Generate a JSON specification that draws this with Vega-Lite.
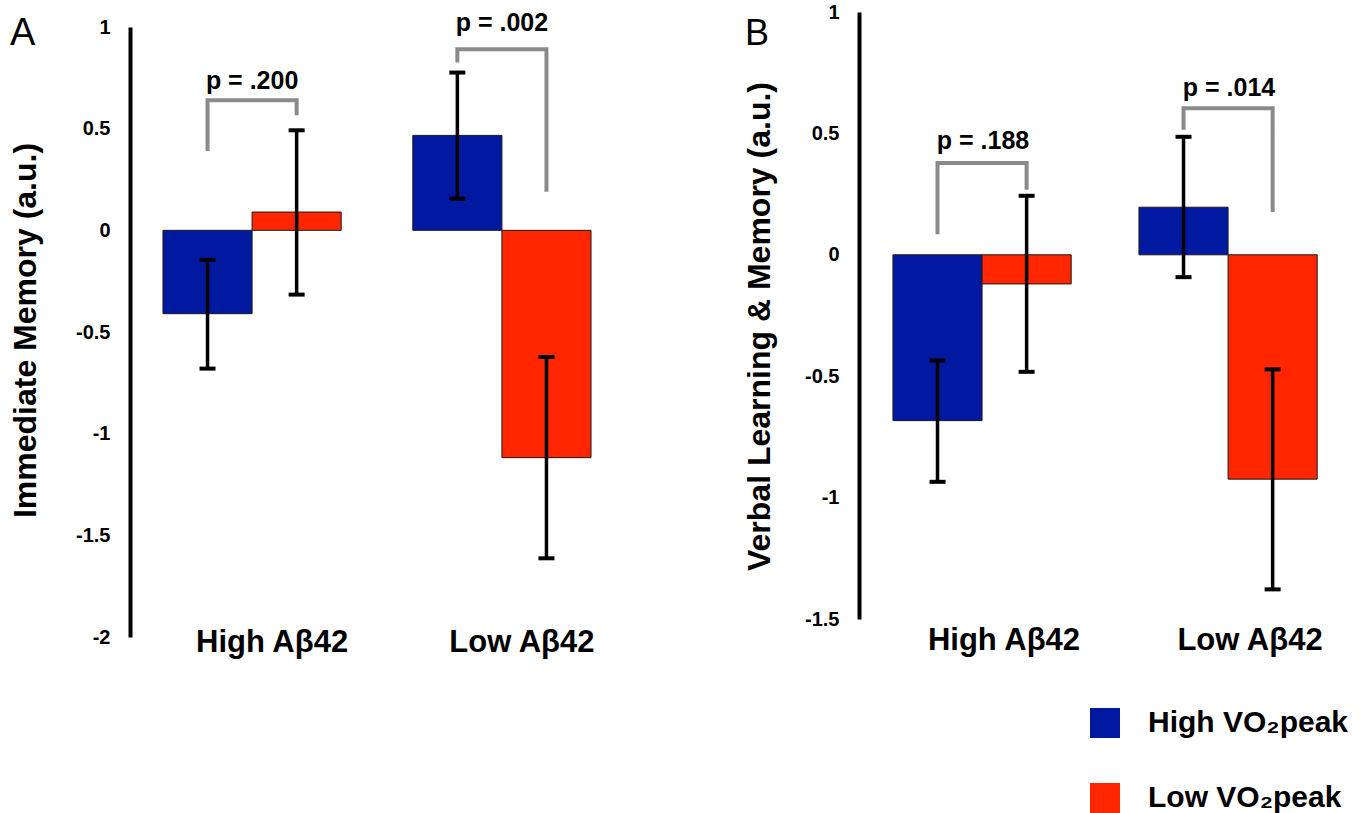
{
  "$schema": "https://vega.github.io/schema/vega-lite/v6.json",
  "background": "white",
  "padding": {"left": 9, "top": 2, "right": 5, "bottom": 5},
  "config": {
    "view": {"stroke": null},
    "font": "Liberation Sans",
    "axis": {"grid": false, "ticks": false, "tickSize": 0, "domainColor": "black", "labelColor": "black", "titleColor": "black"}
  },
  "datasets": {
    "bars": [
      {"panel": "A", "group": "High Aβ42", "vo2": "High VO₂peak", "value": -0.41, "lo": -0.68, "hi": -0.145},
      {"panel": "A", "group": "High Aβ42", "vo2": "Low VO₂peak", "value": 0.09, "lo": -0.316, "hi": 0.492},
      {"panel": "A", "group": "Low Aβ42", "vo2": "High VO₂peak", "value": 0.467, "lo": 0.156, "hi": 0.776},
      {"panel": "A", "group": "Low Aβ42", "vo2": "Low VO₂peak", "value": -1.118, "lo": -1.613, "hi": -0.623},
      {"panel": "B", "group": "High Aβ42", "vo2": "High VO₂peak", "value": -0.683, "lo": -0.935, "hi": -0.435},
      {"panel": "B", "group": "High Aβ42", "vo2": "Low VO₂peak", "value": -0.12, "lo": -0.482, "hi": 0.243},
      {"panel": "B", "group": "Low Aβ42", "vo2": "High VO₂peak", "value": 0.196, "lo": -0.092, "hi": 0.486},
      {"panel": "B", "group": "Low Aβ42", "vo2": "Low VO₂peak", "value": -0.924, "lo": -1.378, "hi": -0.472}
    ],
    "brackets": [
      {"panel": "A", "id": "A1", "group": "High Aβ42", "vo2": "High VO₂peak", "y": 0.39, "step": 1},
      {"panel": "A", "id": "A1", "group": "High Aβ42", "vo2": "High VO₂peak", "y": 0.64, "step": 2},
      {"panel": "A", "id": "A1", "group": "High Aβ42", "vo2": "Low VO₂peak", "y": 0.64, "step": 3},
      {"panel": "A", "id": "A1", "group": "High Aβ42", "vo2": "Low VO₂peak", "y": 0.566, "step": 4},
      {"panel": "A", "id": "A2", "group": "Low Aβ42", "vo2": "High VO₂peak", "y": 0.825, "step": 1},
      {"panel": "A", "id": "A2", "group": "Low Aβ42", "vo2": "High VO₂peak", "y": 0.89, "step": 2},
      {"panel": "A", "id": "A2", "group": "Low Aβ42", "vo2": "Low VO₂peak", "y": 0.89, "step": 3},
      {"panel": "A", "id": "A2", "group": "Low Aβ42", "vo2": "Low VO₂peak", "y": 0.19, "step": 4},
      {"panel": "B", "id": "B1", "group": "High Aβ42", "vo2": "High VO₂peak", "y": 0.085, "step": 1},
      {"panel": "B", "id": "B1", "group": "High Aβ42", "vo2": "High VO₂peak", "y": 0.378, "step": 2},
      {"panel": "B", "id": "B1", "group": "High Aβ42", "vo2": "Low VO₂peak", "y": 0.378, "step": 3},
      {"panel": "B", "id": "B1", "group": "High Aβ42", "vo2": "Low VO₂peak", "y": 0.268, "step": 4},
      {"panel": "B", "id": "B2", "group": "Low Aβ42", "vo2": "High VO₂peak", "y": 0.515, "step": 1},
      {"panel": "B", "id": "B2", "group": "Low Aβ42", "vo2": "High VO₂peak", "y": 0.604, "step": 2},
      {"panel": "B", "id": "B2", "group": "Low Aβ42", "vo2": "Low VO₂peak", "y": 0.604, "step": 3},
      {"panel": "B", "id": "B2", "group": "Low Aβ42", "vo2": "Low VO₂peak", "y": 0.176, "step": 4}
    ],
    "plabels": [
      {"panel": "A", "group": "High Aβ42", "y": 0.697, "text": "p = .200"},
      {"panel": "A", "group": "Low Aβ42", "y": 0.98, "text": "p = .002"},
      {"panel": "B", "group": "High Aβ42", "y": 0.435, "text": "p = .188"},
      {"panel": "B", "group": "Low Aβ42", "y": 0.652, "text": "p = .014"}
    ]
  },
  "spacing": 119,
  "hconcat": [
    {
      "width": 494,
      "height": 625,
      "title": {"text": "A", "anchor": "start", "frame": "bounds", "fontSize": 38, "fontWeight": "normal", "baseline": "alphabetic", "offset": -72, "dx": 1, "color": "black"},
      "layer": [
        {
          "data": {"name": "bars"},
          "transform": [{"filter": "datum.panel == 'A'"}],
          "mark": {"type": "bar", "stroke": "#1a1a1a", "strokeWidth": 1},
          "encoding": {
            "x": {"field": "group", "type": "nominal", "title": null,
              "scale": {"domain": ["High Aβ42", "Low Aβ42"], "paddingInner": 0.2866, "paddingOuter": 0.132},
              "axis": {"domain": false, "labelAngle": 0, "labelFontSize": 31, "labelFontWeight": "bold", "labelPadding": -10, "labelOffset": 20}},
            "xOffset": {"field": "vo2", "type": "nominal", "scale": {"domain": ["High VO₂peak", "Low VO₂peak"], "paddingInner": 0, "paddingOuter": 0}},
            "y": {"field": "value", "type": "quantitative", "title": "Immediate Memory (a.u.)",
              "scale": {"domain": [-2, 1.0738], "nice": false, "zero": false},
              "axis": {"values": [-2, -1.5, -1, -0.5, 0, 0.5, 1], "labelExpr": "toString(datum.value)", "labelFontSize": 20, "labelFontWeight": "bold", "labelPadding": 20, "domainWidth": 4, "domainDash": [610, 40],
                "titleFontSize": 32, "titleFontWeight": "bold", "titleX": -105, "titleY": 318, "titleBaseline": "middle", "titleAngle": -90}},
            "color": {"field": "vo2", "type": "nominal", "scale": {"domain": ["High VO₂peak", "Low VO₂peak"], "range": ["#0019A0", "#FF2600"]},
              "legend": {"title": null, "orient": "none", "legendX": 960, "legendY": 696, "symbolType": "square", "symbolSize": 900, "symbolStrokeWidth": 0, "symbolOpacity": 1, "labelFontSize": 30, "labelFontWeight": "bold", "labelColor": "black", "labelLimit": 400, "rowPadding": 45, "labelOffset": 28}}
          }
        },
        {
          "mark": {"type": "rule", "color": "black", "strokeWidth": 4},
          "encoding": {"y": {"datum": 0, "type": "quantitative"}}
        },
        {
          "data": {"name": "bars"},
          "transform": [{"filter": "datum.panel == 'A'"}],
          "mark": {"type": "rule", "color": "black", "strokeWidth": 3.5},
          "encoding": {
            "x": {"field": "group", "type": "nominal"},
            "xOffset": {"field": "vo2", "type": "nominal"},
            "y": {"field": "lo", "type": "quantitative"},
            "y2": {"field": "hi"}
          }
        },
        {
          "data": {"name": "bars"},
          "transform": [{"filter": "datum.panel == 'A'"}],
          "mark": {"type": "tick", "color": "black", "opacity": 1, "size": 16, "thickness": 4, "orient": "horizontal"},
          "encoding": {
            "x": {"field": "group", "type": "nominal"},
            "xOffset": {"field": "vo2", "type": "nominal"},
            "y": {"field": "lo", "type": "quantitative"}
          }
        },
        {
          "data": {"name": "bars"},
          "transform": [{"filter": "datum.panel == 'A'"}],
          "mark": {"type": "tick", "color": "black", "opacity": 1, "size": 16, "thickness": 4, "orient": "horizontal"},
          "encoding": {
            "x": {"field": "group", "type": "nominal"},
            "xOffset": {"field": "vo2", "type": "nominal"},
            "y": {"field": "hi", "type": "quantitative"}
          }
        },
        {
          "data": {"name": "brackets"},
          "transform": [{"filter": "datum.panel == 'A'"}],
          "mark": {"type": "line", "color": "#8a8a8a", "strokeWidth": 4, "strokeJoin": "miter", "strokeCap": "butt"},
          "encoding": {
            "x": {"field": "group", "type": "nominal"},
            "xOffset": {"field": "vo2", "type": "nominal"},
            "y": {"field": "y", "type": "quantitative"},
            "detail": {"field": "id"},
            "order": {"field": "step", "type": "quantitative"}
          }
        },
        {
          "data": {"name": "plabels"},
          "transform": [{"filter": "datum.panel == 'A'"}],
          "mark": {"type": "text", "fontSize": 25, "fontWeight": "bold", "baseline": "alphabetic", "align": "center", "color": "black"},
          "encoding": {
            "x": {"field": "group", "type": "nominal"},
            "y": {"field": "y", "type": "quantitative"},
            "text": {"field": "text"}
          }
        }
      ]
    },
    {
      "width": 494,
      "height": 607,
      "title": {"text": "B", "anchor": "start", "frame": "bounds", "fontSize": 36, "fontWeight": "normal", "baseline": "alphabetic", "offset": -79, "dx": 2, "color": "black"},
      "layer": [
        {
          "data": {"name": "bars"},
          "transform": [{"filter": "datum.panel == 'B'"}],
          "mark": {"type": "bar", "stroke": "#1a1a1a", "strokeWidth": 1},
          "encoding": {
            "x": {"field": "group", "type": "nominal", "title": null,
              "scale": {"domain": ["High Aβ42", "Low Aβ42"], "paddingInner": 0.268, "paddingOuter": 0.138},
              "axis": {"domain": false, "labelAngle": 0, "labelFontSize": 31, "labelFontWeight": "bold", "labelPadding": 6, "labelOffset": 21}},
            "xOffset": {"field": "vo2", "type": "nominal", "scale": {"domain": ["High VO₂peak", "Low VO₂peak"], "paddingInner": 0, "paddingOuter": 0}},
            "y": {"field": "value", "type": "quantitative", "title": "Verbal Learning & Memory (a.u.)",
              "scale": {"domain": [-1.5, 1], "nice": false, "zero": false},
              "axis": {"values": [-1.5, -1, -0.5, 0, 0.5, 1], "labelExpr": "toString(datum.value)", "labelFontSize": 20, "labelFontWeight": "bold", "labelPadding": 20, "domainWidth": 4,
                "titleFontSize": 32, "titleFontWeight": "bold", "titleX": -100, "titleY": 314, "titleBaseline": "middle", "titleAngle": -90}},
            "color": {"field": "vo2", "type": "nominal", "scale": {"domain": ["High VO₂peak", "Low VO₂peak"], "range": ["#0019A0", "#FF2600"]},
              "legend": {"title": null, "orient": "none", "legendX": 960, "legendY": 696, "symbolType": "square", "symbolSize": 900, "symbolStrokeWidth": 0, "symbolOpacity": 1, "labelFontSize": 30, "labelFontWeight": "bold", "labelColor": "black", "labelLimit": 400, "rowPadding": 45, "labelOffset": 28}}
          }
        },
        {
          "mark": {"type": "rule", "color": "black", "strokeWidth": 4},
          "encoding": {"y": {"datum": 0, "type": "quantitative"}}
        },
        {
          "data": {"name": "bars"},
          "transform": [{"filter": "datum.panel == 'B'"}],
          "mark": {"type": "rule", "color": "black", "strokeWidth": 3.5},
          "encoding": {
            "x": {"field": "group", "type": "nominal"},
            "xOffset": {"field": "vo2", "type": "nominal"},
            "y": {"field": "lo", "type": "quantitative"},
            "y2": {"field": "hi"}
          }
        },
        {
          "data": {"name": "bars"},
          "transform": [{"filter": "datum.panel == 'B'"}],
          "mark": {"type": "tick", "color": "black", "opacity": 1, "size": 16, "thickness": 4, "orient": "horizontal"},
          "encoding": {
            "x": {"field": "group", "type": "nominal"},
            "xOffset": {"field": "vo2", "type": "nominal"},
            "y": {"field": "lo", "type": "quantitative"}
          }
        },
        {
          "data": {"name": "bars"},
          "transform": [{"filter": "datum.panel == 'B'"}],
          "mark": {"type": "tick", "color": "black", "opacity": 1, "size": 16, "thickness": 4, "orient": "horizontal"},
          "encoding": {
            "x": {"field": "group", "type": "nominal"},
            "xOffset": {"field": "vo2", "type": "nominal"},
            "y": {"field": "hi", "type": "quantitative"}
          }
        },
        {
          "data": {"name": "brackets"},
          "transform": [{"filter": "datum.panel == 'B'"}],
          "mark": {"type": "line", "color": "#8a8a8a", "strokeWidth": 4, "strokeJoin": "miter", "strokeCap": "butt"},
          "encoding": {
            "x": {"field": "group", "type": "nominal"},
            "xOffset": {"field": "vo2", "type": "nominal"},
            "y": {"field": "y", "type": "quantitative"},
            "detail": {"field": "id"},
            "order": {"field": "step", "type": "quantitative"}
          }
        },
        {
          "data": {"name": "plabels"},
          "transform": [{"filter": "datum.panel == 'B'"}],
          "mark": {"type": "text", "fontSize": 25, "fontWeight": "bold", "baseline": "alphabetic", "align": "center", "color": "black"},
          "encoding": {
            "x": {"field": "group", "type": "nominal"},
            "y": {"field": "y", "type": "quantitative"},
            "text": {"field": "text"}
          }
        }
      ]
    }
  ]
}
